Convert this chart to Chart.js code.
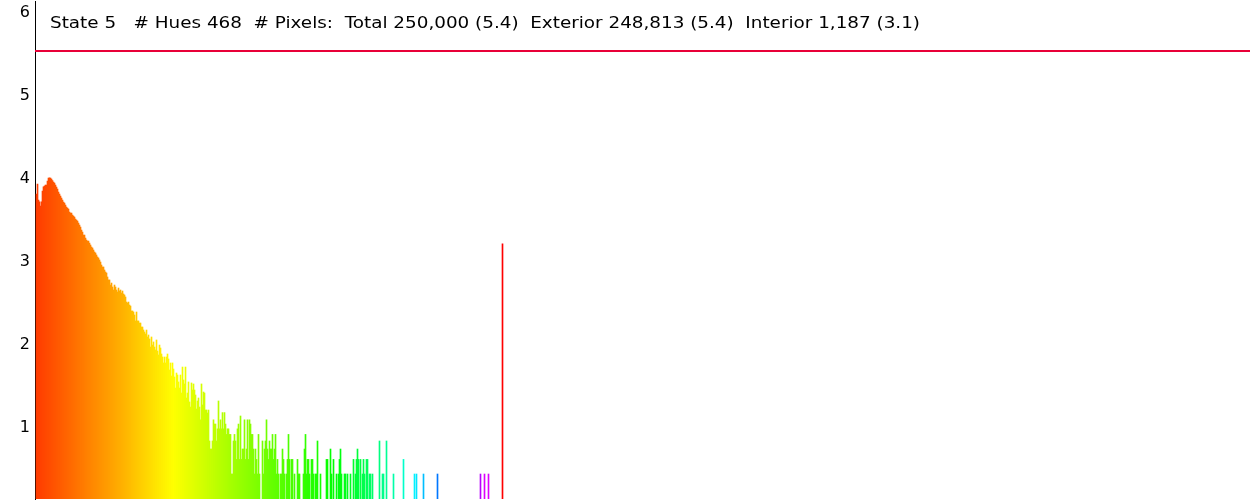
<!DOCTYPE html>
<html><head><meta charset="utf-8">
<script src="https://cdn.jsdelivr.net/npm/chart.js@4"></script>
<style>html,body{margin:0;padding:0;background:#fff;overflow:hidden}canvas{display:block}</style>
</head><body>
<canvas id="c" width="1250" height="500"></canvas>
<script>
// ---- data ----
const stateNumber = 5;
const hueCount = 468;
const totalPixels = 250000;
const exteriorPixels = 248813;
const interiorPixels = 1187;
const interiorBin = 466;
const yTicks = [1, 2, 3, 4, 5, 6];
// log10(pixel count) per hue bin, bins 0..448
const hueLog = [
3.675,3.795,3.602,3.58,3.53,3.58,3.711,3.76,3.771,3.783,3.783,3.831,3.867,3.87,3.867,3.855,3.835,3.819,3.807,3.783,
3.759,3.735,3.699,3.675,3.651,3.627,3.602,3.578,3.566,3.542,3.518,3.506,3.494,3.458,3.446,3.446,3.422,3.41,3.398,3.373,
3.361,3.349,3.325,3.301,3.277,3.241,3.217,3.181,3.181,3.145,3.12,3.108,3.108,3.084,3.06,3.036,3.024,3.0,2.976,2.964,
2.94,2.916,2.904,2.88,2.855,2.819,2.795,2.795,2.759,2.735,2.723,2.675,2.639,2.639,2.578,2.602,2.554,2.518,2.578,2.554,
2.518,2.494,2.542,2.506,2.518,2.482,2.506,2.47,2.458,2.434,2.373,2.361,2.373,2.337,2.325,2.265,2.265,2.253,2.217,2.145,
2.253,2.145,2.145,2.12,2.12,2.072,2.072,2.036,2.012,1.988,2.036,1.952,1.976,1.928,1.831,1.952,1.855,1.892,1.831,1.795,
1.916,1.783,1.735,1.855,1.819,1.747,1.711,1.639,1.711,1.639,1.711,1.747,1.687,1.554,1.639,1.482,1.639,1.566,1.47,1.337,
1.518,1.494,1.41,1.337,1.494,1.277,1.59,1.434,1.386,1.59,1.217,1.277,1.41,1.169,1.108,1.398,1.313,1.386,1.313,1.253,
1.084,1.181,1.217,1.108,0.954,1.386,1.133,1.289,1.277,1.072,1.072,1.036,1.072,0.699,0.602,0.602,0.699,0.954,0.903,0.903,
0.699,0.845,1.181,0.845,0.954,0.845,1.041,0.845,1.041,0.903,0.778,0.845,0.845,0.778,0.778,0.301,0.301,0.699,0.778,0.699,
0.477,0.845,0.903,0.477,1.0,0.477,0.602,0.602,0.954,0.477,0.602,0.954,0.477,0.954,0.903,0.778,0.778,0.602,0.301,0.602,
0.477,0.301,0.778,0.301,0,0,0.699,0.301,0.602,0.699,0.954,0.602,0.477,0.699,0.602,0.602,0.778,0.477,0.602,0.778,
0.301,0.477,0.301,0,0.301,0.301,0.602,0.477,0.301,0,0.301,0.477,0.778,0.477,0,0.477,0.477,0,0.301,0,
0,0.477,0.301,0.301,0,0,0,0.301,0.602,0.778,0.301,0.477,0.477,0.301,0,0.477,0.477,0.301,0,0.301,
0.301,0.699,0,0,0.301,0,0,0,0,0,0.477,0.477,0,0,0.602,0.301,0,0.477,0,0,
0.301,0,0.301,0.477,0.602,0.301,0,0,0.301,0.301,0,0.301,0,0,0.301,0,0,0.477,0,0.301,
0.477,0.602,0.477,0,0.477,0,0.301,0.477,0.301,0,0.477,0.477,0,0.301,0.301,0,0.301,0,0,0,
0,0,0,0.699,0,0,0.301,0.301,0,0,0.699,0,0,0,0,0,0,0.301,0,0,
0,0,0,0,0,0,0,0.477,0,0,0,0,0,0,0,0,0,0,0.301,0,
0.301,0,0,0,0,0,0,0.301,0,0,0,0,0,0,0,0,0,0,0,0,
0,0.301,0,0,0,0,0,0,0,0,0,0,0,0,0,0,0,0,0,0,
0,0,0,0,0,0,0,0,0,0,0,0,0,0,0,0,0,0,0,0,
0,0,0,0,0.301,0,0,0,0.301,0,0,0,0.301
];

// ---- style ----
const hueStops = [[0,14],[84,41],[137,60],[214,88],[264,106],[314,128],[343,150],[350,155],[365,165],[376,180],[385,193],[401,212],[440,275],[448,292]];
function hueFor(i) {
  for (let k = 1; k < hueStops.length; k++) {
    const [a, ha] = hueStops[k - 1], [b, hb] = hueStops[k];
    if (i <= b) return ha + (hb - ha) * (i - a) / (b - a);
  }
  return hueStops[hueStops.length - 1][1];
}
const fmt = n => n.toLocaleString('en-US');
const lg = n => Math.log10(n);
const headerText = `State ${stateNumber}   # Hues ${hueCount}  # Pixels:  Total ${fmt(totalPixels)} (${lg(totalPixels).toFixed(1)})  Exterior ${fmt(exteriorPixels)} (${lg(exteriorPixels).toFixed(1)})  Interior ${fmt(interiorPixels)} (${lg(interiorPixels).toFixed(1)})`;

const headerPlugin = {
  id: 'header',
  afterDraw(chart) {
    const c = chart.ctx;
    c.save();
    c.font = '16px "DejaVu Sans"';
    c.fillStyle = '#000';
    c.textBaseline = 'alphabetic';
    c.textAlign = 'left';
    const w = c.measureText(headerText).width;
    const sx = 870 / w;
    c.translate(50, 28);
    c.scale(sx, 1);
    c.fillText(headerText, 0, 0);
    c.restore();
  }
};

const bins = hueLog.map((_, i) => i);
new Chart(document.getElementById('c').getContext('2d'), {
  data: {
    datasets: [
      { type: 'bar', data: bins.map(i => ({ x: i, y: hueLog[i] > 0 ? hueLog[i] : null })), backgroundColor: bins.map(i => `hsl(${hueFor(i)},100%,50%)`),
        barThickness: 1, borderWidth: 0, grouped: false },
      { type: 'bar', data: [{ x: interiorBin, y: lg(interiorPixels) }], backgroundColor: '#ff0000', barThickness: 1, borderWidth: 0, grouped: false },
      { type: 'line', data: [{ x: -1.5, y: lg(totalPixels) }, { x: 1213.5, y: lg(totalPixels) }], borderColor: 'rgb(232,0,56)', borderWidth: 2, pointRadius: 0 }
    ]
  },
  options: {
    responsive: false, animation: false, devicePixelRatio: 1,
    layout: { padding: { top: 1, bottom: 1, left: 0, right: 0 } },
    plugins: { legend: { display: false }, tooltip: { enabled: false }, title: { display: false } },
    scales: {
      x: { type: 'linear', min: -1.5, max: 1213.5, display: false, offset: false },
      y: { type: 'linear', min: 0, max: 6,
        afterFit: s => { s.width = 35; s.paddingTop = 0; s.paddingBottom = 0; },
        grid: { display: false, drawTicks: false },
        border: { display: true, color: '#000', width: 1 },
        ticks: { stepSize: 1, labelOffset: 12, padding: 5, color: '#000', font: { family: 'DejaVu Sans', size: 16 },
          callback: v => yTicks.includes(v) ? String(v) : '' } }
    }
  },
  plugins: [headerPlugin]
});
</script>
</body></html>
